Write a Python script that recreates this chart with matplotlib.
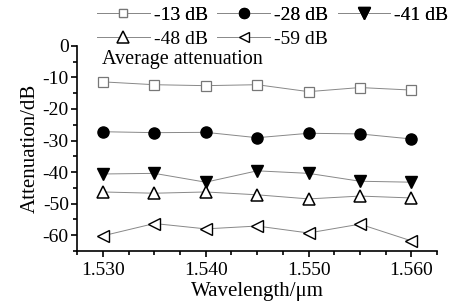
import matplotlib as mpl
mpl.use('Agg')
import matplotlib.pyplot as plt
from matplotlib.ticker import MultipleLocator

plt.rcParams['font.family'] = ['Liberation Serif', 'DejaVu Serif']
plt.rcParams['axes.unicode_minus'] = False

wavelength = [1.530, 1.535, 1.540, 1.545, 1.550, 1.555, 1.560]
att_13 = [-11.4, -12.3, -12.6, -12.3, -14.5, -13.2, -14.0]
att_28 = [-27.2, -27.5, -27.4, -29.1, -27.7, -27.9, -29.5]
att_41 = [-40.6, -40.4, -43.2, -39.6, -40.4, -42.9, -43.2]
att_48 = [-46.3, -46.7, -46.3, -47.2, -48.5, -47.6, -48.2]
att_59 = [-60.2, -56.3, -58.0, -57.1, -59.3, -56.5, -61.8]
labels = ["-13 dB", "-28 dB", "-41 dB", "-48 dB", "-59 dB"]

fig = plt.figure(figsize=(4.65, 3.02), dpi=100)
ax = fig.add_axes([0.166, 0.169, 0.774, 0.679])

lc = '#888888'
lw = 0.7
h1, = ax.plot(wavelength, att_13, color=lc, lw=lw, marker='s', ms=7,
              mfc='white', mec='#777777', mew=0.9, label=labels[0])
h2, = ax.plot(wavelength, att_28, color=lc, lw=lw, marker='o', ms=8,
              mfc='black', mec='black', label=labels[1])
h3, = ax.plot(wavelength, att_41, color=lc, lw=lw, marker='v', ms=9,
              mfc='black', mec='black', label=labels[2])
h4, = ax.plot(wavelength, att_48, color=lc, lw=lw, marker='^', ms=9,
              mfc='white', mec='black', mew=1.1, label=labels[3])
h5, = ax.plot(wavelength, att_59, color=lc, lw=lw, marker='<', ms=8,
              mfc='white', mec='black', mew=1.0, label=labels[4])

ax.set_xlim(1.5275, 1.5625)
ax.set_ylim(-65, 0)
ax.xaxis.set_major_locator(MultipleLocator(0.01))
ax.xaxis.set_minor_locator(MultipleLocator(0.0025))
ax.yaxis.set_major_locator(MultipleLocator(10))
ax.yaxis.set_minor_locator(MultipleLocator(5))
ax.xaxis.set_major_formatter(mpl.ticker.FormatStrFormatter('%.3f'))
ax.spines['top'].set_visible(False)
ax.spines['right'].set_visible(False)
ax.tick_params(which='both', direction='out', labelsize=14, width=1.2)
ax.tick_params(which='major', length=4)
ax.tick_params(which='minor', length=3)
ax.tick_params(axis='x', pad=4)
ax.tick_params(axis='y', pad=2)
for s in ['left', 'bottom']:
    ax.spines[s].set_linewidth(1.2)

ax.set_xlabel("Wavelength/\u03bcm", fontsize=15, labelpad=2)
ax.set_ylabel("Attenuation/dB", fontsize=15, labelpad=2)
ax.text(1.5299, -4.4, "Average attenuation", fontsize=14.5, ha='left', va='center')

legkw = dict(loc='center left', frameon=False, fontsize=14, handlelength=2.7,
             handletextpad=0.2, columnspacing=0.5, borderaxespad=0,
             borderpad=0, markerscale=0.9)
leg1 = fig.legend(handles=[h1, h2, h3], ncol=3,
                  bbox_to_anchor=(0.209, 0.950), **legkw)
fig.legend(handles=[h4, h5], ncol=2,
           bbox_to_anchor=(0.209, 0.871), **legkw)
fig.add_artist(leg1)

fig.savefig('out.png', dpi=100)
